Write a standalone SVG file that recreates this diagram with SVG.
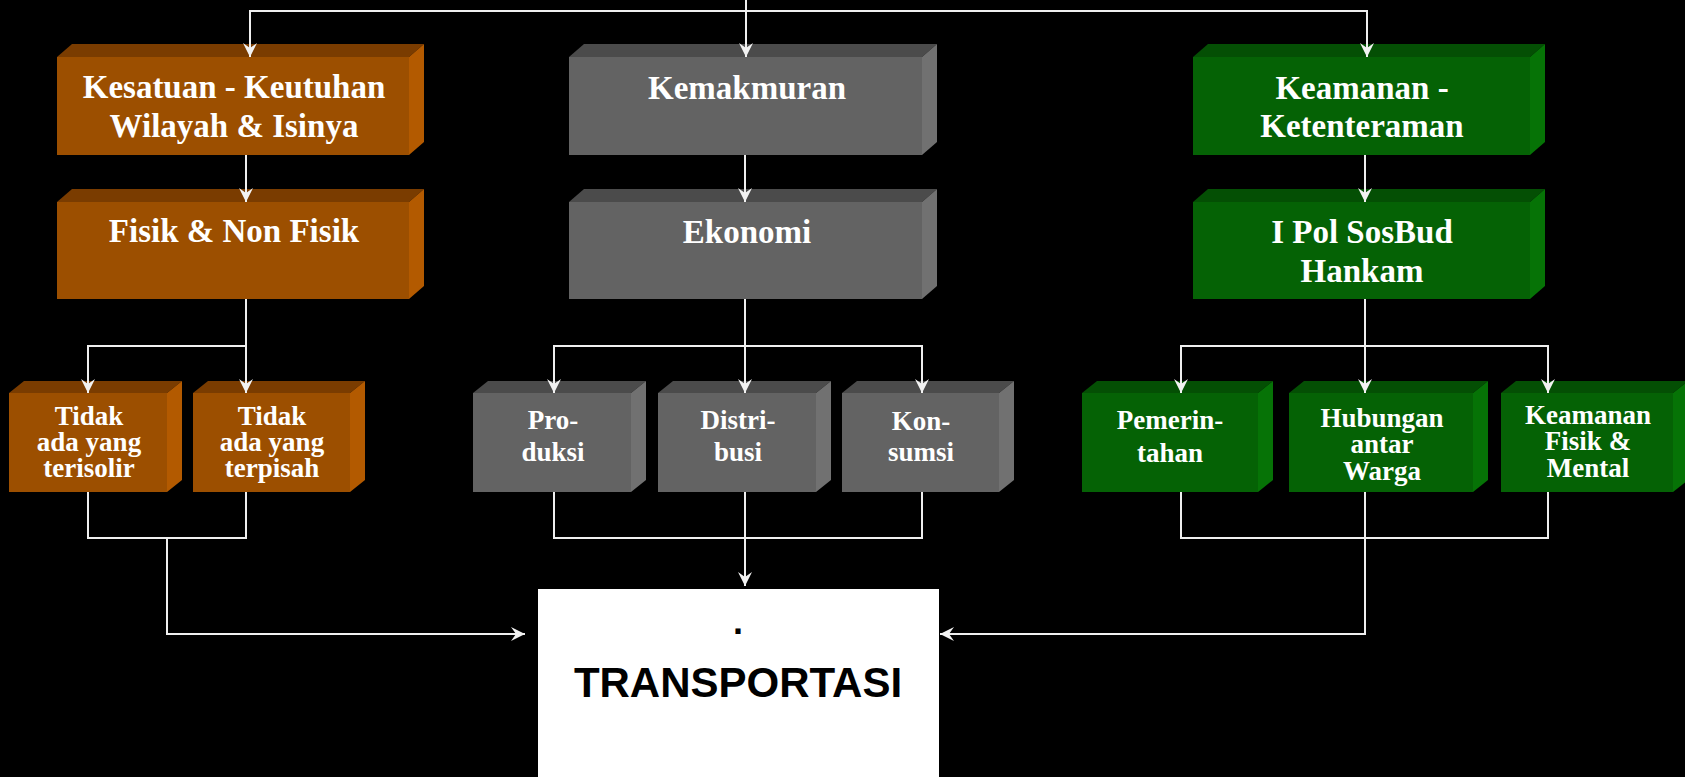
<svg xmlns="http://www.w3.org/2000/svg" width="1685" height="777" viewBox="0 0 1685 777">
<defs>
<marker id="arr" viewBox="0 0 14 14" refX="14" refY="7" markerWidth="14" markerHeight="14" markerUnits="userSpaceOnUse" orient="auto">
<path d="M0,0 L14,7 L0,14 L5,7 Z" fill="#f2f2f2"/>
</marker>
<style>
.or .f{fill:#9c4f00}.or .t{fill:#7a3c00}.or .s{fill:#b35a00}
.gr .f{fill:#636363}.gr .t{fill:#4b4b4b}.gr .s{fill:#717171}
.gn .f{fill:#056205}.gn .t{fill:#044f04}.gn .s{fill:#067306}
.big{font-family:"Liberation Serif","Times New Roman",serif;font-weight:bold;font-size:33px;fill:#ffffff;text-anchor:middle}
.sm{font-family:"Liberation Serif","Times New Roman",serif;font-weight:bold;font-size:27px;fill:#ffffff;text-anchor:middle}
.c{fill:none;stroke:#efefef;stroke-width:2}
</style>
</defs>
<rect x="0" y="0" width="1685" height="777" fill="#000000"/>

<g id="kesatuan" class="or">
<polygon class="t" points="57,57 72,44 424,44 409,57"/>
<polygon class="s" points="409,57 424,44 424,142 409,155"/>
<rect class="f" x="57" y="57" width="352" height="98"/>
<text class="big"><tspan x="234" y="98">Kesatuan - Keutuhan</tspan><tspan x="234" y="137">Wilayah &amp; Isinya</tspan></text>
</g>
<g id="fisik" class="or">
<polygon class="t" points="57,202 72,189 424,189 409,202"/>
<polygon class="s" points="409,202 424,189 424,286 409,299"/>
<rect class="f" x="57" y="202" width="352" height="97"/>
<text class="big" x="234" y="242">Fisik &amp; Non Fisik</text>
</g>
<g id="kemakmuran" class="gr">
<polygon class="t" points="569,57 584,44 937,44 922,57"/>
<polygon class="s" points="922,57 937,44 937,142 922,155"/>
<rect class="f" x="569" y="57" width="353" height="98"/>
<text class="big" x="747" y="99">Kemakmuran</text>
</g>
<g id="ekonomi" class="gr">
<polygon class="t" points="569,202 584,189 937,189 922,202"/>
<polygon class="s" points="922,202 937,189 937,286 922,299"/>
<rect class="f" x="569" y="202" width="353" height="97"/>
<text class="big" x="747" y="243">Ekonomi</text>
</g>
<g id="keamanan" class="gn">
<polygon class="t" points="1193,57 1208,44 1545,44 1530,57"/>
<polygon class="s" points="1530,57 1545,44 1545,142 1530,155"/>
<rect class="f" x="1193" y="57" width="337" height="98"/>
<text class="big"><tspan x="1362" y="99">Keamanan -</tspan><tspan x="1362" y="137">Ketenteraman</tspan></text>
</g>
<g id="ipol" class="gn">
<polygon class="t" points="1193,202 1208,189 1545,189 1530,202"/>
<polygon class="s" points="1530,202 1545,189 1545,286 1530,299"/>
<rect class="f" x="1193" y="202" width="337" height="97"/>
<text class="big"><tspan x="1362" y="243">I Pol SosBud</tspan><tspan x="1362" y="282">Hankam</tspan></text>
</g>

<g id="terisolir" class="or">
<polygon class="t" points="9,393 24,381 182,381 167,393"/>
<polygon class="s" points="167,393 182,381 182,480 167,492"/>
<rect class="f" x="9" y="393" width="158" height="99"/>
<text class="sm"><tspan x="89" y="425">Tidak</tspan><tspan x="89" y="451">ada yang</tspan><tspan x="89" y="477">terisolir</tspan></text>
</g>
<g id="terpisah" class="or">
<polygon class="t" points="193,393 208,381 365,381 350,393"/>
<polygon class="s" points="350,393 365,381 365,480 350,492"/>
<rect class="f" x="193" y="393" width="157" height="99"/>
<text class="sm"><tspan x="272" y="425">Tidak</tspan><tspan x="272" y="451">ada yang</tspan><tspan x="272" y="477">terpisah</tspan></text>
</g>
<g id="produksi" class="gr">
<polygon class="t" points="473,393 488,381 646,381 631,393"/>
<polygon class="s" points="631,393 646,381 646,480 631,492"/>
<rect class="f" x="473" y="393" width="158" height="99"/>
<text class="sm"><tspan x="553" y="429">Pro-</tspan><tspan x="553" y="461">duksi</tspan></text>
</g>
<g id="distribusi" class="gr">
<polygon class="t" points="658,393 673,381 831,381 816,393"/>
<polygon class="s" points="816,393 831,381 831,480 816,492"/>
<rect class="f" x="658" y="393" width="158" height="99"/>
<text class="sm"><tspan x="738" y="429">Distri-</tspan><tspan x="738" y="461">busi</tspan></text>
</g>
<g id="konsumsi" class="gr">
<polygon class="t" points="842,393 857,381 1014,381 999,393"/>
<polygon class="s" points="999,393 1014,381 1014,480 999,492"/>
<rect class="f" x="842" y="393" width="157" height="99"/>
<text class="sm"><tspan x="921" y="430">Kon-</tspan><tspan x="921" y="461">sumsi</tspan></text>
</g>
<g id="pemerintahan" class="gn">
<polygon class="t" points="1082,393 1097,381 1273,381 1258,393"/>
<polygon class="s" points="1258,393 1273,381 1273,480 1258,492"/>
<rect class="f" x="1082" y="393" width="176" height="99"/>
<text class="sm"><tspan x="1170" y="429">Pemerin-</tspan><tspan x="1170" y="462">tahan</tspan></text>
</g>
<g id="hubungan" class="gn">
<polygon class="t" points="1289,393 1304,381 1488,381 1473,393"/>
<polygon class="s" points="1473,393 1488,381 1488,480 1473,492"/>
<rect class="f" x="1289" y="393" width="184" height="99"/>
<text class="sm"><tspan x="1382" y="427">Hubungan</tspan><tspan x="1382" y="453">antar</tspan><tspan x="1382" y="480">Warga</tspan></text>
</g>
<g id="keamanan-fisik" class="gn">
<polygon class="t" points="1501,393 1516,381 1688,381 1673,393"/>
<polygon class="s" points="1673,393 1688,381 1688,480 1673,492"/>
<rect class="f" x="1501" y="393" width="172" height="99"/>
<text class="sm"><tspan x="1588" y="424">Keamanan</tspan><tspan x="1588" y="450">Fisik &amp;</tspan><tspan x="1588" y="477">Mental</tspan></text>
</g>

<g id="transportasi">
<rect x="538" y="589" width="401" height="188" fill="#ffffff"/>
<text x="738" y="634" font-family="'Liberation Sans',Arial,sans-serif" font-weight="bold" font-size="36" text-anchor="middle" fill="#000000">.</text>
<text x="738" y="697" font-family="'Liberation Sans',Arial,sans-serif" font-weight="bold" font-size="42" text-anchor="middle" fill="#000000">TRANSPORTASI</text>
</g>

<g id="connectors">
<path class="c" d="M746,0 V57" marker-end="url(#arr)"/>
<path class="c" d="M250,57 V11 H1367 V57" marker-end="url(#arr)"/>
<path class="c" d="M250,11 V57" marker-end="url(#arr)"/>
<path class="c" d="M246,155 V202" marker-end="url(#arr)"/>
<path class="c" d="M745,155 V202" marker-end="url(#arr)"/>
<path class="c" d="M1365,155 V202" marker-end="url(#arr)"/>
<path class="c" d="M246,299 V393" marker-end="url(#arr)"/>
<path class="c" d="M246,346 H88 V393" marker-end="url(#arr)"/>
<path class="c" d="M745,299 V393" marker-end="url(#arr)"/>
<path class="c" d="M745,346 H554 V393" marker-end="url(#arr)"/>
<path class="c" d="M745,346 H922 V393" marker-end="url(#arr)"/>
<path class="c" d="M1365,299 V393" marker-end="url(#arr)"/>
<path class="c" d="M1365,346 H1181 V393" marker-end="url(#arr)"/>
<path class="c" d="M1365,346 H1548 V393" marker-end="url(#arr)"/>
<path class="c" d="M88,492 V538 H246 V492"/>
<path class="c" d="M167,538 V634 H525" marker-end="url(#arr)"/>
<path class="c" d="M554,492 V538 H922 V492"/>
<path class="c" d="M745,492 V586" marker-end="url(#arr)"/>
<path class="c" d="M1181,492 V538 H1548 V492"/>
<path class="c" d="M1365,492 V634 H940" marker-end="url(#arr)"/>
</g>
</svg>
